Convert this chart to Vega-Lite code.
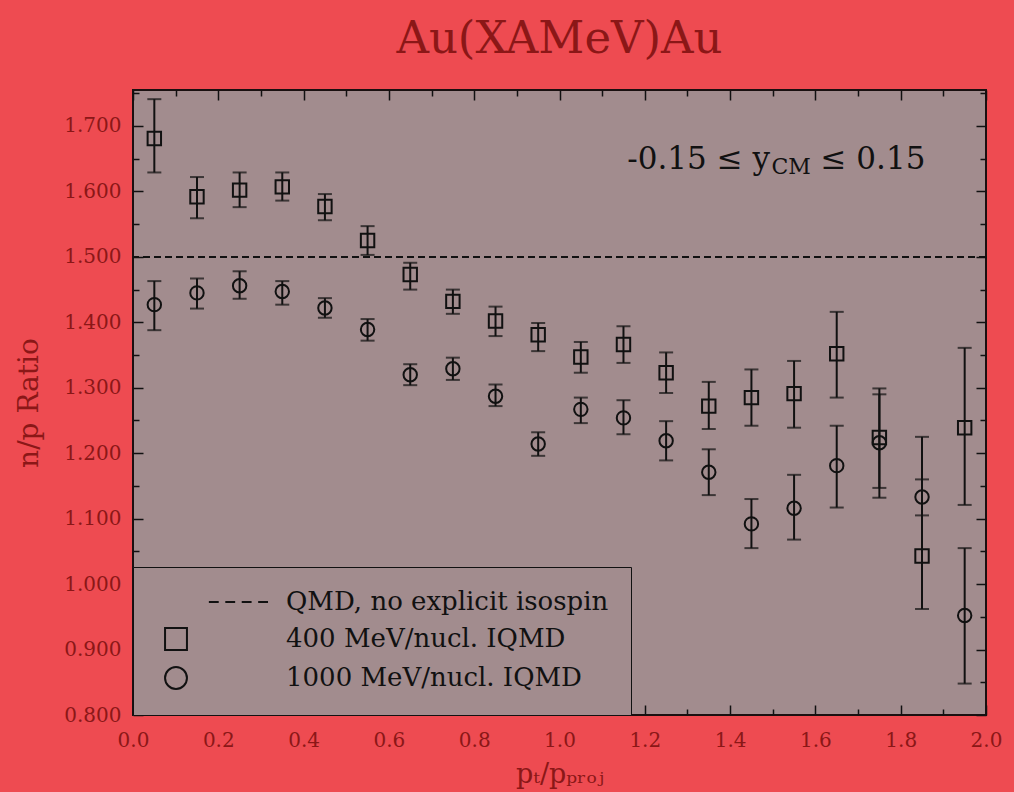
{
  "$schema": "https://vega.github.io/schema/vega-lite/v6.json",
  "autosize": {"type": "none"},
  "width": 853,
  "height": 625,
  "padding": {"left": 133, "top": 90, "right": 28, "bottom": 77},
  "background": "#ee4b51",
  "title": {
    "text": "Au(XAMeV)Au",
    "font": "DejaVu Serif",
    "fontSize": 45,
    "fontWeight": "normal",
    "color": "#8b1717",
    "anchor": "middle",
    "offset": 21
  },
  "config": {
    "view": {"fill": "#a28c8e", "stroke": "#1a1010", "strokeWidth": 2},
    "legend": {
      "orient": "bottom-left",
      "offset": 0,
      "padding": 22,
      "strokeColor": "#111111",
      "fillColor": "#a28c8e",
      "labelFont": "DejaVu Serif",
      "labelFontSize": 26,
      "labelColor": "#111111",
      "labelOffset": 97,
      "labelLimit": 0,
      "rowPadding": 9,
      "symbolOffset": 8,
      "symbolSize": 480,
      "symbolStrokeWidth": 2,
      "symbolStrokeColor": "#111111",
      "symbolFillColor": "transparent"
    }
  },
  "datasets": {
    "sim": [
      {"pt": 0.05, "ratio": 1.681, "lo": 1.629, "hi": 1.741, "model": "400 MeV/nucl.  IQMD"},
      {"pt": 0.15, "ratio": 1.592, "lo": 1.559, "hi": 1.622, "model": "400 MeV/nucl.  IQMD"},
      {"pt": 0.25, "ratio": 1.602, "lo": 1.576, "hi": 1.629, "model": "400 MeV/nucl.  IQMD"},
      {"pt": 0.35, "ratio": 1.607, "lo": 1.586, "hi": 1.629, "model": "400 MeV/nucl.  IQMD"},
      {"pt": 0.45, "ratio": 1.577, "lo": 1.556, "hi": 1.596, "model": "400 MeV/nucl.  IQMD"},
      {"pt": 0.55, "ratio": 1.525, "lo": 1.503, "hi": 1.547, "model": "400 MeV/nucl.  IQMD"},
      {"pt": 0.65, "ratio": 1.473, "lo": 1.450, "hi": 1.491, "model": "400 MeV/nucl.  IQMD"},
      {"pt": 0.75, "ratio": 1.432, "lo": 1.413, "hi": 1.450, "model": "400 MeV/nucl.  IQMD"},
      {"pt": 0.85, "ratio": 1.402, "lo": 1.379, "hi": 1.424, "model": "400 MeV/nucl.  IQMD"},
      {"pt": 0.95, "ratio": 1.381, "lo": 1.356, "hi": 1.399, "model": "400 MeV/nucl.  IQMD"},
      {"pt": 1.05, "ratio": 1.347, "lo": 1.323, "hi": 1.370, "model": "400 MeV/nucl.  IQMD"},
      {"pt": 1.15, "ratio": 1.366, "lo": 1.338, "hi": 1.394, "model": "400 MeV/nucl.  IQMD"},
      {"pt": 1.25, "ratio": 1.323, "lo": 1.292, "hi": 1.354, "model": "400 MeV/nucl.  IQMD"},
      {"pt": 1.35, "ratio": 1.272, "lo": 1.237, "hi": 1.309, "model": "400 MeV/nucl.  IQMD"},
      {"pt": 1.45, "ratio": 1.285, "lo": 1.242, "hi": 1.328, "model": "400 MeV/nucl.  IQMD"},
      {"pt": 1.55, "ratio": 1.291, "lo": 1.239, "hi": 1.341, "model": "400 MeV/nucl.  IQMD"},
      {"pt": 1.65, "ratio": 1.352, "lo": 1.285, "hi": 1.416, "model": "400 MeV/nucl.  IQMD"},
      {"pt": 1.75, "ratio": 1.224, "lo": 1.132, "hi": 1.299, "model": "400 MeV/nucl.  IQMD"},
      {"pt": 1.85, "ratio": 1.043, "lo": 0.962, "hi": 1.225, "model": "400 MeV/nucl.  IQMD"},
      {"pt": 1.95, "ratio": 1.239, "lo": 1.121, "hi": 1.361, "model": "400 MeV/nucl.  IQMD"},
      {"pt": 0.05, "ratio": 1.427, "lo": 1.388, "hi": 1.463, "model": "1000 MeV/nucl. IQMD"},
      {"pt": 0.15, "ratio": 1.445, "lo": 1.421, "hi": 1.467, "model": "1000 MeV/nucl. IQMD"},
      {"pt": 0.25, "ratio": 1.456, "lo": 1.436, "hi": 1.478, "model": "1000 MeV/nucl. IQMD"},
      {"pt": 0.35, "ratio": 1.447, "lo": 1.427, "hi": 1.463, "model": "1000 MeV/nucl. IQMD"},
      {"pt": 0.45, "ratio": 1.422, "lo": 1.407, "hi": 1.437, "model": "1000 MeV/nucl. IQMD"},
      {"pt": 0.55, "ratio": 1.389, "lo": 1.372, "hi": 1.405, "model": "1000 MeV/nucl. IQMD"},
      {"pt": 0.65, "ratio": 1.320, "lo": 1.304, "hi": 1.336, "model": "1000 MeV/nucl. IQMD"},
      {"pt": 0.75, "ratio": 1.329, "lo": 1.312, "hi": 1.346, "model": "1000 MeV/nucl. IQMD"},
      {"pt": 0.85, "ratio": 1.287, "lo": 1.272, "hi": 1.305, "model": "1000 MeV/nucl. IQMD"},
      {"pt": 0.95, "ratio": 1.214, "lo": 1.196, "hi": 1.232, "model": "1000 MeV/nucl. IQMD"},
      {"pt": 1.05, "ratio": 1.267, "lo": 1.246, "hi": 1.285, "model": "1000 MeV/nucl. IQMD"},
      {"pt": 1.15, "ratio": 1.254, "lo": 1.229, "hi": 1.281, "model": "1000 MeV/nucl. IQMD"},
      {"pt": 1.25, "ratio": 1.219, "lo": 1.189, "hi": 1.249, "model": "1000 MeV/nucl. IQMD"},
      {"pt": 1.35, "ratio": 1.171, "lo": 1.136, "hi": 1.206, "model": "1000 MeV/nucl. IQMD"},
      {"pt": 1.45, "ratio": 1.092, "lo": 1.055, "hi": 1.130, "model": "1000 MeV/nucl. IQMD"},
      {"pt": 1.55, "ratio": 1.116, "lo": 1.068, "hi": 1.167, "model": "1000 MeV/nucl. IQMD"},
      {"pt": 1.65, "ratio": 1.181, "lo": 1.117, "hi": 1.242, "model": "1000 MeV/nucl. IQMD"},
      {"pt": 1.75, "ratio": 1.216, "lo": 1.147, "hi": 1.290, "model": "1000 MeV/nucl. IQMD"},
      {"pt": 1.85, "ratio": 1.133, "lo": 1.105, "hi": 1.160, "model": "1000 MeV/nucl. IQMD"},
      {"pt": 1.95, "ratio": 0.952, "lo": 0.848, "hi": 1.055, "model": "1000 MeV/nucl. IQMD"}
    ]
  },
  "layer": [
    {
      "data": {"values": [{"ratio": 1.5}]},
      "mark": {"type": "rule", "color": "#111111", "strokeWidth": 2, "strokeDash": [7, 4]},
      "encoding": {
        "y": {"field": "ratio", "type": "quantitative", "scale": {"domain": [0.8, 1.755], "nice": false, "zero": false}, "axis": null}
      }
    },
    {
      "data": {"name": "sim"},
      "mark": {
        "type": "errorbar",
        "color": "#111111",
        "rule": {"strokeWidth": 2},
        "ticks": {"size": 14, "thickness": 2}
      },
      "encoding": {
        "x": {"field": "pt", "type": "quantitative", "scale": {"domain": [0, 2], "nice": false, "zero": false}, "axis": null},
        "y": {"field": "lo", "type": "quantitative", "scale": {"domain": [0.8, 1.755], "nice": false, "zero": false}, "axis": null},
        "y2": {"field": "hi"}
      }
    },
    {
      "data": {"name": "sim"},
      "mark": {"type": "point", "filled": false, "color": "#111111", "strokeWidth": 2, "size": 180, "opacity": 1},
      "encoding": {
        "x": {
          "field": "pt",
          "type": "quantitative",
          "scale": {"domain": [0, 2], "nice": false, "zero": false},
          "axis": {
            "values": [0, 0.1, 0.2, 0.3, 0.4, 0.5, 0.6, 0.7, 0.8, 0.9, 1.0, 1.1, 1.2, 1.3, 1.4, 1.5, 1.6, 1.7, 1.8, 1.9, 2.0],
            "labelExpr": "abs(datum.value * 5 - round(datum.value * 5)) < 0.001 ? format(datum.value, '.1f') : ''",
            "tickSize": {"condition": {"test": "abs(datum.value * 5 - round(datum.value * 5)) < 0.001", "value": -10}, "value": -6},
            "tickColor": "#111111",
            "tickWidth": 1.5,
            "domain": false,
            "grid": false,
            "labelFlush": false,
            "labelOverlap": false,
            "labelFont": "DejaVu Serif",
            "labelFontSize": 20,
            "labelColor": "#8b1717",
            "labelPadding": 25,
            "title": "pₜ/pₚᵣₒⱼ",
            "titleFont": "DejaVu Serif",
            "titleFontSize": 27,
            "titleFontWeight": "normal",
            "titleColor": "#8b1717",
            "titlePadding": 7
          }
        },
        "y": {
          "field": "ratio",
          "type": "quantitative",
          "scale": {"domain": [0.8, 1.755], "nice": false, "zero": false},
          "axis": {
            "values": [0.8, 0.85, 0.9, 0.95, 1.0, 1.05, 1.1, 1.15, 1.2, 1.25, 1.3, 1.35, 1.4, 1.45, 1.5, 1.55, 1.6, 1.65, 1.7, 1.75],
            "labelExpr": "abs(datum.value * 10 - round(datum.value * 10)) < 0.001 ? format(datum.value, '.3f') : ''",
            "tickSize": {"condition": {"test": "abs(datum.value * 10 - round(datum.value * 10)) < 0.001", "value": -10}, "value": -6},
            "tickColor": "#111111",
            "tickWidth": 1.5,
            "domain": false,
            "grid": false,
            "labelFlush": false,
            "labelOverlap": false,
            "labelFont": "DejaVu Serif",
            "labelFontSize": 20,
            "labelColor": "#8b1717",
            "labelPadding": 22,
            "title": "n/p Ratio",
            "titleFont": "DejaVu Serif",
            "titleFontSize": 28,
            "titleFontWeight": "normal",
            "titleColor": "#8b1717",
            "titlePadding": 20
          }
        },
        "shape": {
          "field": "model",
          "type": "nominal",
          "scale": {
            "domain": ["QMD, no explicit isospin", "400 MeV/nucl.  IQMD", "1000 MeV/nucl. IQMD"],
            "range": ["M3,0H3.9M4.5,0H5.4M6,0H6.9M7.5,0H8.4", "square", "circle"]
          },
          "legend": {
            "title": null,
            "symbolSize": 480,
            "symbolStrokeWidth": 2,
            "encode": {"legend": {"update": {"strokeWidth": {"value": 2}}}}
          }
        }
      }
    },
    {
      "data": {"values": [{"pt": 1.4936, "ratio": 1.648, "note": "-0.15 ≤ y"}]},
      "mark": {"type": "text", "font": "DejaVu Serif", "fontSize": 31, "color": "#111111", "align": "right", "baseline": "middle"},
      "encoding": {
        "x": {"field": "pt", "type": "quantitative", "scale": {"domain": [0, 2], "nice": false, "zero": false}, "axis": null},
        "y": {"field": "ratio", "type": "quantitative", "scale": {"domain": [0.8, 1.755], "nice": false, "zero": false}, "axis": null},
        "text": {"field": "note"}
      }
    },
    {
      "data": {"values": [{"pt": 1.497, "ratio": 1.638, "note": "CM"}]},
      "mark": {"type": "text", "font": "DejaVu Serif", "fontSize": 22, "color": "#111111", "align": "left", "baseline": "middle"},
      "encoding": {
        "x": {"field": "pt", "type": "quantitative", "scale": {"domain": [0, 2], "nice": false, "zero": false}, "axis": null},
        "y": {"field": "ratio", "type": "quantitative", "scale": {"domain": [0.8, 1.755], "nice": false, "zero": false}, "axis": null},
        "text": {"field": "note"}
      }
    },
    {
      "data": {"values": [{"pt": 1.612, "ratio": 1.648, "note": "≤ 0.15"}]},
      "mark": {"type": "text", "font": "DejaVu Serif", "fontSize": 31, "color": "#111111", "align": "left", "baseline": "middle"},
      "encoding": {
        "x": {"field": "pt", "type": "quantitative", "scale": {"domain": [0, 2], "nice": false, "zero": false}, "axis": null},
        "y": {"field": "ratio", "type": "quantitative", "scale": {"domain": [0.8, 1.755], "nice": false, "zero": false}, "axis": null},
        "text": {"field": "note"}
      }
    },
    {
      "data": {"values": [{"pt": 0, "ratio": 0.8}]},
      "mark": {"type": "point", "opacity": 0},
      "encoding": {
        "x": {
          "field": "pt",
          "type": "quantitative",
          "scale": {"domain": [0, 2], "nice": false, "zero": false},
          "axis": {
            "orient": "top",
            "values": [0, 0.1, 0.2, 0.3, 0.4, 0.5, 0.6, 0.7, 0.8, 0.9, 1.0, 1.1, 1.2, 1.3, 1.4, 1.5, 1.6, 1.7, 1.8, 1.9, 2.0],
            "labels": false,
            "tickSize": {"condition": {"test": "abs(datum.value * 5 - round(datum.value * 5)) < 0.001", "value": -10}, "value": -6},
            "tickColor": "#111111",
            "tickWidth": 1.5,
            "domain": false,
            "grid": false,
            "title": null
          }
        },
        "y": {
          "field": "ratio",
          "type": "quantitative",
          "scale": {"domain": [0.8, 1.755], "nice": false, "zero": false},
          "axis": {
            "orient": "right",
            "values": [0.8, 0.85, 0.9, 0.95, 1.0, 1.05, 1.1, 1.15, 1.2, 1.25, 1.3, 1.35, 1.4, 1.45, 1.5, 1.55, 1.6, 1.65, 1.7, 1.75],
            "labels": false,
            "tickSize": {"condition": {"test": "abs(datum.value * 10 - round(datum.value * 10)) < 0.001", "value": -10}, "value": -6},
            "tickColor": "#111111",
            "tickWidth": 1.5,
            "domain": false,
            "grid": false,
            "title": null
          }
        }
      }
    }
  ],
  "resolve": {"axis": {"x": "independent", "y": "independent"}}
}
